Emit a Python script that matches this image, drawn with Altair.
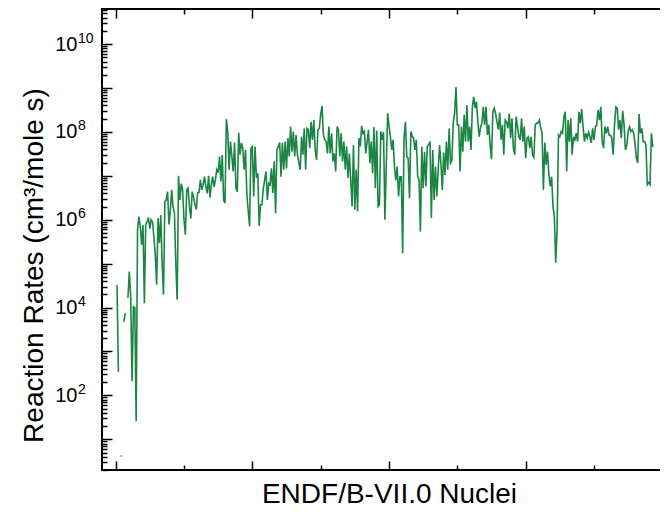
import altair as alt
import pandas as pd

# log10 of reaction rate (cm^3/mole s) for each ENDF/B-VII.0 nucleus
log_rate = [
    4.50, 2.55, None, 0.62, None, 3.69, 3.86, None, 4.23, 4.82,
    4.25, 2.32, 4.02, 4.00, 1.41, 5.77, 6.07, 5.85, 5.43, 5.88,
    4.10, 5.90, 5.95, 6.05, 5.80, 6.00, 5.95, 5.60, 5.20, 4.52,
    6.04, 5.47, 6.11, 5.00, 4.30, 6.42, 6.45, 6.64, 5.89, 6.20,
    6.68, 6.30, 6.15, 5.00, 4.18, 7.00, 6.45, 6.82, 6.68, 6.00,
    5.66, 6.68, 6.72, 6.30, 6.03, 6.64, 6.52, 6.35, 6.23, 6.62,
    6.62, 6.91, 6.68, 6.80, 6.98, 6.75, 6.60, 7.00, 6.50, 6.80,
    6.98, 6.75, 6.91, 7.14, 7.07, 7.44, 6.87, 7.48, 6.45, 6.38,
    8.29, 8.00, 7.14, 7.78, 7.45, 7.10, 7.76, 6.72, 6.64, 7.98,
    7.48, 7.75, 7.63, 7.14, 7.59, 6.57, 6.20, 5.85, 7.63, 7.67,
    6.53, 7.67, 6.95, 7.06, 5.86, 6.34, 6.34, 6.70, 6.90, 7.10,
    6.45, 6.83, 6.80, 7.17, 6.61, 7.33, 6.15, 7.59, 7.67, 7.76,
    6.98, 7.75, 7.14, 7.78, 7.17, 7.86, 7.44, 8.12, 7.55, 8.01,
    7.44, 7.93, 7.48, 7.30, 7.14, 7.89, 7.48, 8.08, 7.14, 8.08,
    8.05, 7.63, 8.23, 7.82, 8.27, 7.59, 7.36, 8.05, 8.08, 8.40,
    8.59, 7.93, 7.82, 7.78, 7.51, 8.12, 7.51, 7.97, 7.33, 7.51,
    7.10, 8.12, 8.05, 7.44, 7.97, 7.33, 7.78, 7.14, 7.67, 6.95,
    7.51, 6.90, 6.30, 7.70, 6.23, 7.14, 6.19, 7.86, 7.67, 8.14,
    7.97, 8.01, 7.51, 7.78, 8.05, 7.29, 7.78, 7.06, 8.11, 6.72,
    8.03, 6.30, 6.34, 8.01, 7.82, 8.00, 6.00, 7.20, 8.43, 8.15,
    7.90, 7.59, 7.82, 7.21, 6.90, 7.21, 6.53, 6.98, 6.98, 5.24,
    7.86, 8.23, 7.44, 7.40, 6.49, 8.01, 7.90, 7.86, 7.59, 7.82,
    6.98, 6.91, 5.73, 7.67, 6.72, 7.55, 6.76, 7.67, 7.70, 7.78,
    6.04, 7.59, 6.45, 7.21, 6.53, 7.14, 7.70, 7.29, 6.68, 7.53,
    7.02, 7.78, 7.14, 8.08, 7.29, 7.35, 8.20, 8.42, 9.02, 8.16,
    8.16, 7.10, 8.12, 7.55, 8.39, 7.78, 8.61, 7.78, 8.12, 7.59,
    8.57, 8.80, 8.54, 8.69, 8.23, 7.89, 8.10, 8.20, 8.57, 8.16,
    8.57, 7.93, 8.16, 7.70, 7.38, 8.46, 8.54, 8.42, 8.23, 8.05,
    8.44, 7.82, 8.16, 7.48, 8.27, 8.23, 8.08, 8.42, 7.86, 8.31,
    7.63, 7.48, 8.35, 8.12, 7.90, 7.82, 8.31, 7.78, 8.12, 7.40,
    7.86, 7.89, 7.63, 7.89, 7.48, 7.42, 8.16, 8.20, 8.20, 8.27,
    8.10, 7.97, 6.68, 7.76, 7.25, 7.55, 7.02, 6.76, 6.98, 6.30,
    6.07, 5.02, 5.77, 7.93, 7.89, 8.01, 7.97, 8.35, 8.46, 7.10,
    8.27, 7.78, 8.31, 7.48, 7.89, 7.82, 7.97, 7.78, 8.46, 8.20,
    8.52, 8.12, 7.78, 7.97, 7.86, 7.99, 7.89, 7.75, 8.08, 7.82,
    8.12, 8.16, 8.50, 8.27, 8.57, 7.78, 7.63, 8.12, 7.97, 8.12,
    7.93, 7.93, 7.86, 7.48, 8.16, 8.57, 8.54, 8.05, 8.27, 7.86,
    8.48, 8.16, 7.59, 7.70, 8.01, 8.12, 8.01, 8.05, 7.97, 7.75,
    7.40, 7.29, 8.41, 7.97, 8.08, 7.78, 7.78, 7.71, 6.80, 6.85,
    6.80, 7.97, 7.67,
]
nucleus = list(range(1, len(log_rate) + 1))
rate = [None if v is None else 10 ** v for v in log_rate]

# axis ticks
x_major = [0, 100, 200, 300, 400]
x_minor = [50, 150, 250, 350]
y_label_exp = [2, 4, 6, 8, 10]
y_major_exp = [1, 2, 3, 4, 5, 6, 7, 8, 9, 10]
y_minor_mult = [2, 3, 4, 5, 6, 7, 8, 9]
y_labels = [10.0 ** e for e in y_label_exp]
y_major = [10.0 ** e for e in y_major_exp]
y_minor = [m * 10.0 ** e for e in [0] + y_major_exp for m in y_minor_mult
           if 2 <= m * 10.0 ** e <= 6.3e10]

df = pd.DataFrame({"nucleus": nucleus, "rate": rate})

FONT = "Liberation Sans"
GREEN = "#1b8544"

xscale = alt.Scale(domain=[-10, 410], nice=False, zero=False)
yscale = alt.Scale(type="log", domain=[2, 6.3e10], nice=False)


def tick_axis(orient, values, size):
    return alt.Axis(orient=orient, values=values, tickSize=size, offset=-size,
                    labels=False, domain=False, grid=False, title=None,
                    ticks=True, tickColor="black", tickWidth=1.5)


def X(axis):
    return alt.X("nucleus:Q", scale=xscale, axis=axis)


def Y(axis):
    return alt.Y("rate:Q", scale=yscale, axis=axis)


base = alt.Chart(df)

line = base.mark_line(color=GREEN, strokeWidth=1.6, strokeCap="round").encode(
    x=X(alt.Axis(orient="bottom", labels=False, ticks=False, tickSize=0, domain=False,
                 grid=False, title="ENDF/B-VII.0 Nuclei", titleFont=FONT, titleFontSize=28,
                 titleFontWeight="normal", titleColor="black", titleX=287, titleY=32,
                 titleBaseline="alphabetic", titleAlign="center")),
    y=Y(alt.Axis(orient="left", values=y_labels, labelExpr="'10'", ticks=False, tickSize=0,
                 domain=False, grid=False, labelPadding=25, labelFont=FONT, labelFontSize=20,
                 labelColor="black", labelAlign="right", labelBaseline="middle",
                 title="Reaction Rates (cm³/mole s)", titleFont=FONT, titleFontSize=28,
                 titleFontWeight="normal", titleColor="black", titleX=-60, titleY=256,
                 titleAngle=270, titleBaseline="alphabetic", titleAlign="center")),
)

sup = base.mark_line(strokeOpacity=0).encode(
    x=X(tick_axis("bottom", x_major, 9)),
    y=Y(alt.Axis(orient="left", values=y_labels,
                 labelExpr="'' + round(log(datum.value) / LN10)", ticks=False, tickSize=0,
                 domain=False, grid=False, labelPadding=24.5, labelFont=FONT,
                 labelFontSize=14, labelColor="black", labelAlign="left",
                 labelBaseline="middle", labelOffset=-6, title=None)),
)

l3 = base.mark_line(strokeOpacity=0).encode(
    x=X(tick_axis("bottom", x_minor, 5)), y=Y(tick_axis("left", y_major, 10)))
l4 = base.mark_line(strokeOpacity=0).encode(
    x=X(tick_axis("top", x_major, 9)), y=Y(tick_axis("left", y_minor, 5)))
l5 = base.mark_line(strokeOpacity=0).encode(
    x=X(tick_axis("top", x_minor, 5)), y=Y(tick_axis("right", y_major, 10)))
l6 = base.mark_line(strokeOpacity=0).encode(
    x=X(None), y=Y(tick_axis("right", y_minor, 5)))

chart = (
    alt.layer(line, sup, l3, l4, l5, l6)
    .resolve_axis(x="independent", y="independent")
    .properties(width=574, height=461,
                autosize=alt.AutoSizeParams(type="none"),
                padding={"left": 94, "top": 1, "right": -16, "bottom": 38},
                background="white")
    .configure_view(stroke="black", strokeWidth=2)
)

chart.save("out.html", embed_options={"renderer": "svg", "actions": False})
